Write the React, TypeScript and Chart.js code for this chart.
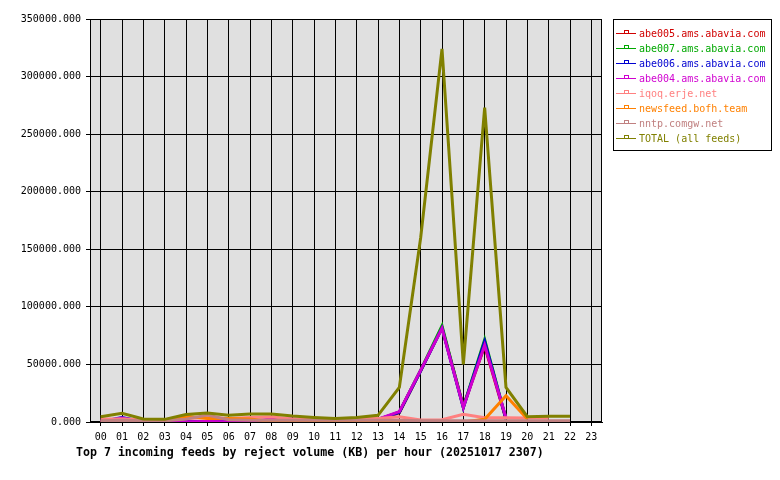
import React, { useEffect, useRef } from 'react';
import { Chart, registerables } from 'chart.js';

Chart.register(...registerables);

// ---- data ----
const hours = ['00','01','02','03','04','05','06','07','08','09','10','11','12','13','14','15','16','17','18','19','20','21','22','23'];

const abe005 = [200, 1500, 100, 0, 200, 300, 200, 300, 500, 500, 300, 200, 300, 1800, 8000, 44500, 82000, 13800, 66000, 2500, null, null, null, null];
const abe007 = [200, 1500, 100, 0, 200, 300, 200, 300, 500, 500, 300, 200, 300, 2200, 8500, 45000, 83500, 12800, 71500, 2500, null, null, null, null];
const abe006 = [300, 3800, 200, 100, 300, 300, 300, 500, 800, 800, 500, 200, 300, 2000, 8500, 44500, 81500, 12500, 70000, 2500, null, null, null, null];
const abe004 = [300, 3500, 300, 100, 300, 400, 300, 500, 2600, 2600, 800, 300, 300, 2500, 9000, 45000, 81300, 12700, 66800, 3500, null, null, null, null];
const iqoq = [2500, 2500, 2000, 2000, 3000, 4000, 3000, 4000, 4500, 2500, 2000, 2000, 3000, 3000, 4600, 1700, 2000, 6700, 3700, 3700, 3500, 3500, null, null];
const newsfeed = [0, 0, 500, 1500, 5000, 3000, 3000, 2500, 500, 0, 0, 0, 0, 0, 0, 0, 0, 0, 2300, 22800, 2600, null, null, null];
const nntp = [1000, 1500, 1000, 1000, 2500, 6000, 2000, 1500, 1500, 1500, 1500, 1500, 1500, 1500, 1500, 1000, 1000, 1000, 1000, 1000, 1000, 1000, 1000, null];
const total = [4600, 7500, 2600, 2300, 6500, 7800, 5800, 7000, 7000, 5200, 4000, 3000, 4000, 5800, 30000, 160000, 324000, 50000, 273000, 30000, 4600, 5000, 5000, null];

const seriesNames = [
  'abe005.ams.abavia.com',
  'abe007.ams.abavia.com',
  'abe006.ams.abavia.com',
  'abe004.ams.abavia.com',
  'iqoq.erje.net',
  'newsfeed.bofh.team',
  'nntp.comgw.net',
  'TOTAL (all feeds)',
];
const seriesValues = [abe005, abe007, abe006, abe004, iqoq, newsfeed, nntp, total];
const seriesColors = ['#d00000', '#00a800', '#0000d0', '#d000d0', '#ff8080', '#ff8000', '#c08080', '#808000'];

const yMin = 0;
const yMax = 350000;
const yStep = 50000;

const chartTitle = 'Top 7 incoming feeds by reject volume (KB) per hour (20251017 2307)';

const MONO = '"DejaVu Sans Mono", "Liberation Mono", monospace';

const decorPlugin = {
  id: 'decor',
  beforeDraw(chart: any) {
    const { ctx, chartArea } = chart;
    ctx.save();
    ctx.fillStyle = '#ffffff';
    ctx.fillRect(0, 0, chart.width, chart.height);
    ctx.fillStyle = '#e0e0e0';
    ctx.fillRect(chartArea.left, chartArea.top, chartArea.right - chartArea.left, chartArea.bottom - chartArea.top);
    ctx.restore();
  },
  beforeDatasetsDraw(chart: any) {
    const { ctx, chartArea } = chart;
    ctx.save();
    ctx.strokeStyle = '#000';
    ctx.lineWidth = 1;
    ctx.strokeRect(Math.round(chartArea.left) + 0.5, Math.round(chartArea.top) + 0.5,
      Math.round(chartArea.right - chartArea.left) - 1, Math.round(chartArea.bottom - chartArea.top) - 1);
    ctx.restore();
  },
  afterDraw(chart: any) {
    const { ctx } = chart;
    ctx.save();
    // legend box
    const bx = 613, by = 19, bw = 158, bh = 131;
    ctx.fillStyle = '#ffffff';
    ctx.fillRect(bx, by, bw, bh);
    ctx.strokeStyle = '#000';
    ctx.lineWidth = 1;
    ctx.strokeRect(bx + 0.5, by + 0.5, bw, bh);
    ctx.font = '10px ' + MONO;
    ctx.textBaseline = 'middle';
    ctx.textAlign = 'left';
    seriesNames.forEach((name, i) => {
      const y = 33 + i * 15;
      const c = seriesColors[i];
      ctx.strokeStyle = c;
      ctx.beginPath();
      ctx.moveTo(616, y + 0.5);
      ctx.lineTo(636, y + 0.5);
      ctx.stroke();
      ctx.strokeRect(624.5, y - 2.5, 4, 3);
      ctx.fillStyle = c;
      ctx.fillText(name, 639, y + 1);
    });
    // bottom title
    ctx.fillStyle = '#000';
    ctx.font = 'bold 11.6px ' + MONO;
    ctx.textBaseline = 'middle';
    ctx.fillText(chartTitle, 76, 453);
    ctx.restore();
  },
};

export default function App() {
  const ref = useRef<HTMLCanvasElement | null>(null);
  useEffect(() => {
    if (!ref.current) return;
    const chart = new Chart(ref.current, {
      type: 'line',
      data: {
        labels: hours,
        datasets: seriesNames.map((name, i) => ({
          label: name,
          data: seriesValues[i],
          borderColor: seriesColors[i],
          backgroundColor: seriesColors[i],
          borderWidth: 3,
          pointRadius: 0,
          tension: 0,
          fill: false,
          spanGaps: false,
          order: seriesNames.length - i,
        })),
      },
      options: {
        animation: false,
        responsive: false,
        maintainAspectRatio: false,
        devicePixelRatio: 1,
        layout: { padding: { top: 19, right: 178, bottom: 0, left: 0 } },
        plugins: {
          legend: { display: false },
          title: { display: false },
          tooltip: { enabled: false },
        },
        scales: {
          x: {
            type: 'category',
            offset: true,
            grid: { offset: false, color: '#000', lineWidth: 1, tickLength: 4 },
            border: { color: '#000' },
            ticks: {
              color: '#000',
              font: { family: MONO, size: 10 },
              padding: 5,
              maxRotation: 0,
              autoSkip: false,
            },
            afterFit: (s: any) => { s.height = 58; },
          },
          y: {
            min: yMin,
            max: yMax,
            grid: { color: '#000', lineWidth: 1, tickLength: 4 },
            border: { color: '#000' },
            ticks: {
              stepSize: yStep,
              color: '#000',
              font: { family: MONO, size: 10 },
              padding: 5,
              callback: (v: any) => Number(v).toFixed(3),
            },
            afterFit: (s: any) => { s.width = 90; },
          },
        },
      },
      plugins: [decorPlugin],
    } as any);
    return () => chart.destroy();
  }, []);
  return (
    <div style={{ position: 'absolute', left: 0, top: 0, width: 780, height: 480 }}>
      <canvas ref={ref} width={780} height={480} />
    </div>
  );
}
